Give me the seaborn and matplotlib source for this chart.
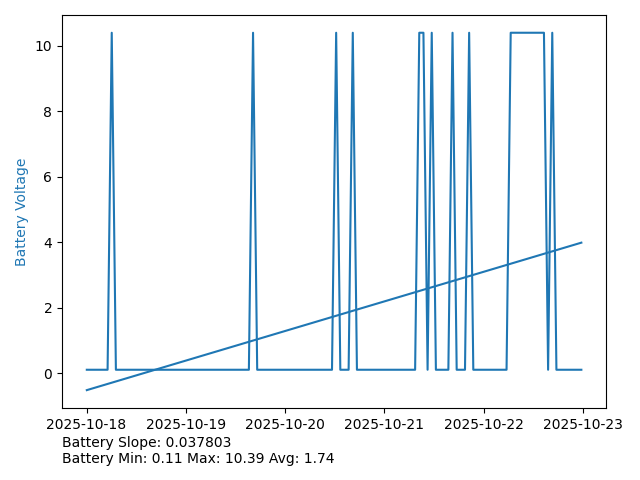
import numpy as np
import pandas as pd
import matplotlib
matplotlib.use("Agg")
import matplotlib.pyplot as plt
import seaborn as sns

# hourly battery readings (roughly 1h apart), low ~0.11 V, high 10.39 V
start = "2025-10-18 00:04"
n_points = 120
high_hours = [6, 40, 60, 64, 80, 81, 83, 88, 92,
              102, 103, 104, 105, 106, 107, 108, 109, 110, 112]
low_value = 0.11
high_value = 10.39

slope_txt = "Battery Slope: 0.037803"
stats_txt = "Battery Min: 0.11 Max: 10.39 Avg: 1.74"

times = pd.date_range(start, periods=n_points, freq="3618s")
volts = [high_value if i in high_hours else low_value for i in range(n_points)]
df = pd.DataFrame({"time": times, "voltage": volts})

# linear trend over hours
hours = (df.time - df.time.iloc[0]).dt.total_seconds() / 3600
coef = np.polyfit(hours, df.voltage, 1)
df["trend"] = np.polyval(coef, hours)

fig, ax = plt.subplots(figsize=(6.4, 4.8), dpi=100)
sns.lineplot(data=df, x="time", y="voltage", color="tab:blue", ax=ax)
sns.lineplot(data=df.iloc[[0, -1]], x="time", y="trend", color="tab:blue", ax=ax)
ax.set_xlabel("")
ax.set_ylabel("Battery Voltage", color="tab:blue")

fig.subplots_adjust(left=0.097, right=0.947, top=0.969, bottom=0.15)
fig.text(0.097, 0.035, slope_txt + "\n" + stats_txt, fontsize=10)
plt.savefig("out.png")
